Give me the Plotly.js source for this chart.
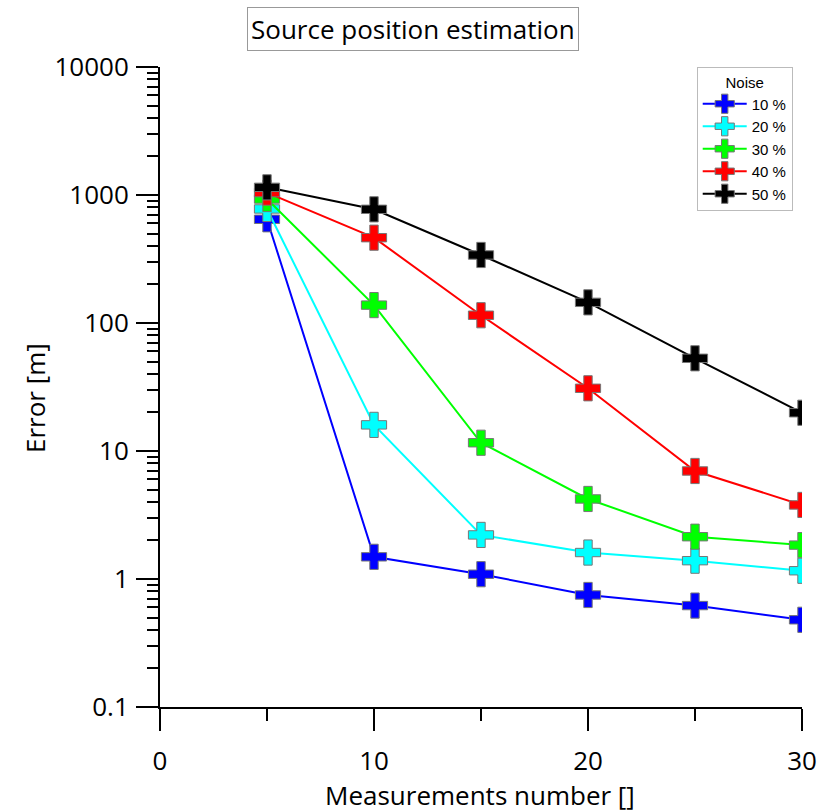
<!DOCTYPE html>
<html>
<head>
<meta charset="utf-8">
<script src="https://cdn.plot.ly/plotly-3.0.1.min.js"></script>
<style>html,body{margin:0;padding:0;background:#fff}#chart{width:828px;height:812px}</style>
</head>
<body>
<div id="chart"></div>
<script>
const measurements = [5, 10, 15, 20, 25, 30];
const noise10 = [646, 1.49, 1.09, 0.75, 0.62, 0.48];
const noise20 = [778, 16.0, 2.21, 1.61, 1.39, 1.16];
const noise30 = [930, 138, 11.6, 4.22, 2.14, 1.84];
const noise40 = [1043, 464, 115, 30.9, 6.98, 3.79];
const noise50 = [1148, 773, 340, 145, 53, 19.9];
const seriesNames = ['10 %', '20 %', '30 %', '40 %', '50 %'];
const seriesColors = ['#0000ff', '#00ffff', '#00ff00', '#ff0000', '#000000'];
const seriesValues = [noise10, noise20, noise30, noise40, noise50];
const yTickVals = [0.1, 1, 10, 100, 1000, 10000];
const yTickText = ['0.1', '1', '10', '100', '1000', '10000'];

const traces = seriesValues.map((vals, i) => ({
  x: measurements,
  y: vals,
  name: seriesNames[i],
  type: 'scatter',
  mode: 'lines+markers',
  line: {color: seriesColors[i], width: 2},
  marker: {symbol: 'cross', size: 21, color: seriesColors[i], line: {color: '#777', width: 1}}
}));

const font = '"Open Sans", "Noto Sans", sans-serif';
const legFont = '"Liberation Sans", Arial, sans-serif';
const layout = {
  width: 828, height: 812,
  margin: {l: 160, r: 26, t: 67, b: 105},
  paper_bgcolor: '#fff', plot_bgcolor: '#fff',
  showlegend: true,
  font: {family: font, color: '#000', size: 26},
  xaxis: {
    range: [0, 30], dtick: 10, tick0: 0,
    showgrid: false, zeroline: false,
    showline: true, linecolor: '#000', linewidth: 2,
    ticks: 'outside', ticklen: 22, tickwidth: 2, tickcolor: '#000',
    ticklabelstandoff: 8,
    tickfont: {family: font, size: 26, color: '#000'},
    minor: {dtick: 5, tick0: 0, ticks: 'outside', ticklen: 12, tickwidth: 2, tickcolor: '#000', showgrid: false}
  },
  yaxis: {
    type: 'log', range: [-1, 4],
    tickmode: 'array', tickvals: yTickVals, ticktext: yTickText,
    showgrid: false, zeroline: false,
    showline: true, linecolor: '#000', linewidth: 2,
    ticks: 'outside', ticklen: 22, tickwidth: 2, tickcolor: '#000',
    ticklabelstandoff: 2,
    tickfont: {family: font, size: 26, color: '#000'},
    minor: {dtick: 'D1', ticks: 'outside', ticklen: 11, tickwidth: 2, tickcolor: '#000', showgrid: false}
  },
  legend: {
    x: 0.836, y: 1.0, xanchor: 'left', yanchor: 'top',
    bgcolor: '#fff', bordercolor: '#bbb', borderwidth: 1,
    font: {family: legFont, size: 15, color: '#000'},
    title: {text: 'Noise', side: 'top center', font: {family: legFont, size: 15, color: '#000'}},
    tracegroupgap: 0, itemwidth: 44
  },
  annotations: [
    {text: 'Source position estimation', xref: 'paper', yref: 'paper',
     x: (413 - 160) / 642, y: 1 + (67 - 29) / 640, xanchor: 'center', yanchor: 'middle',
     showarrow: false, font: {family: font, size: 26, color: '#000'},
     bordercolor: '#999', borderwidth: 1, borderpad: 3, bgcolor: '#fff'},
    {text: 'Measurements number []', xref: 'paper', yref: 'paper',
     x: (480 - 160) / 642, y: -(795 - 707) / 640, xanchor: 'center', yanchor: 'middle',
     showarrow: false, font: {family: font, size: 26, color: '#000'}},
    {text: 'Error [m]', xref: 'paper', yref: 'paper', textangle: -90,
     x: -(160 - 35) / 642, y: (707 - 398) / 640, xanchor: 'center', yanchor: 'middle',
     showarrow: false, font: {family: font, size: 26, color: '#000'}}
  ]
};

Plotly.newPlot('chart', traces, layout, {displayModeBar: false, staticPlot: true});
</script>
</body>
</html>
